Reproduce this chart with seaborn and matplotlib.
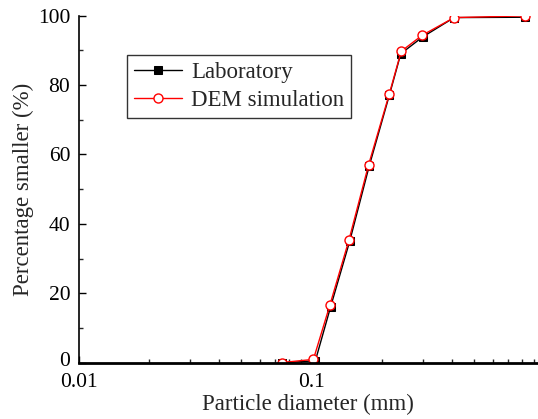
import numpy as np
import pandas as pd
import matplotlib
matplotlib.use("Agg")
import matplotlib.pyplot as plt
import matplotlib.transforms as mtransforms
import seaborn as sns
from matplotlib.ticker import LogLocator, FixedLocator, NullFormatter, MultipleLocator

# grain size distribution
lab_d = [0.075, 0.104, 0.121, 0.146, 0.177, 0.216, 0.242, 0.300, 0.410, 0.830]
lab_pct = [0.0, 0.6, 16.2, 35.0, 56.6, 77.0, 89.0, 93.8, 99.4, 99.5]
dem_d = [0.075, 0.102, 0.120, 0.145, 0.176, 0.216, 0.243, 0.299, 0.410, 0.830]
dem_pct = [0.1, 1.0, 16.6, 35.4, 57.0, 77.4, 89.7, 94.3, 99.4, 99.9]

sns.set_theme(style="ticks")
plt.rcParams['font.family'] = ['Liberation Serif', 'DejaVu Serif']

fig = plt.figure(figsize=(5.38, 4.19), dpi=100)
ax = fig.add_axes([0.146, 0.134, 0.852, 0.829])

sns.lineplot(x=lab_d, y=lab_pct, ax=ax, color="black", linewidth=1.0,
             marker="s", markersize=5.5, markeredgecolor="black",
             markerfacecolor="black", label="Laboratory", sort=False)
sns.lineplot(x=dem_d, y=dem_pct, ax=ax, color="red", linewidth=1.0,
             marker="o", markersize=6.5, markeredgecolor="red",
             markerfacecolor="white", markeredgewidth=1.0,
             label="DEM simulation", sort=False)

ax.set_xscale("log")
ax.set_xlim(0.01, 0.93)
ax.set_ylim(0, 100)
ax.xaxis.set_major_locator(FixedLocator([0.01, 0.1]))
ax.set_xticklabels(["0.01", "0.1"])
ax.xaxis.set_minor_locator(LogLocator(base=10, subs=np.arange(2, 10)))
ax.xaxis.set_minor_formatter(NullFormatter())
ax.yaxis.set_major_locator(MultipleLocator(20))
ax.yaxis.set_minor_locator(MultipleLocator(10))

ax.tick_params(which="major", direction="in", length=5, width=1.0,
               labelsize=15.5, colors="black")
ax.tick_params(which="minor", direction="in", length=3, width=1.0)
ax.tick_params(axis="x", which="major", pad=7.5)
ax.tick_params(axis="y", which="major", pad=6)

# lift the "0" label a touch so it clears "0.01" below it
fig.canvas.draw()
for lbl in ax.get_yticklabels():
    if lbl.get_text() == "0":
        lbl.set_transform(lbl.get_transform() +
                          mtransforms.ScaledTranslation(0, 2.5 / 72, fig.dpi_scale_trans))

for side in ["top", "right"]:
    ax.spines[side].set_visible(False)
ax.spines["left"].set_linewidth(1.2)
ax.spines["bottom"].set_linewidth(2.0)
ax.spines["left"].set_color("black")
ax.spines["bottom"].set_color("black")

ax.set_xlabel("Particle diameter (mm)", fontsize=16.5, labelpad=1)
ax.set_ylabel("Percentage smaller (%)", fontsize=16.5, labelpad=3)

leg = ax.legend(loc="upper left", bbox_to_anchor=(0.106, 0.885), fontsize=16.5,
                frameon=True, fancybox=False, shadow=False, handlelength=2.1,
                handletextpad=0.4, borderpad=0.3, labelspacing=0.3,
                borderaxespad=0)
leg.get_frame().set_edgecolor("#333333")
leg.get_frame().set_linewidth(1.0)
leg.get_frame().set_alpha(1)

fig.savefig("out.png", dpi=100)
